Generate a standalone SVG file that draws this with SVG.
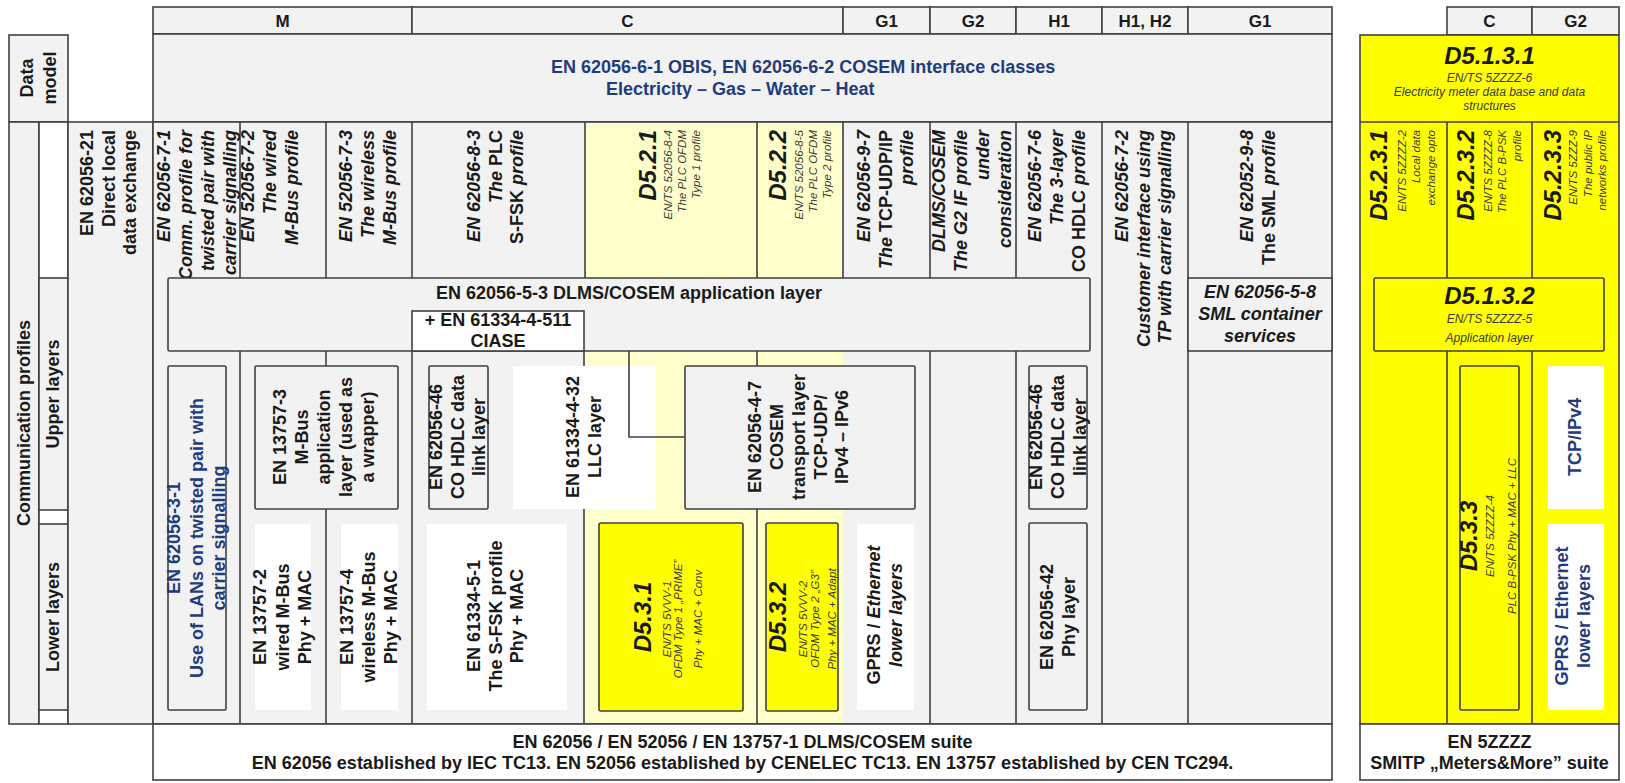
<svg xmlns="http://www.w3.org/2000/svg" width="1625" height="783" viewBox="0 0 1625 783">
  <style>
    text { font-family: "Liberation Sans", Arial, sans-serif; font-weight: bold; font-size: 18px; fill: #1a1a1a; }
    .i { font-style: italic; }
    .n { font-style: normal; }
    .blue { fill: #1f3c7f; }
    .big { font-size: 24px; font-style: italic; }
    .sm { font-size: 11.5px; font-weight: normal; font-style: italic; fill: #3a3a3a; }
    .sm12 { font-size: 12px; font-weight: normal; font-style: italic; fill: #3a3a3a; }
    .hd { font-size: 17px; }
    .ln { stroke: #404040; stroke-width: 1.6; fill: none; }
    .box { stroke: #404040; stroke-width: 1.6; }
    .g { fill: #f2f2f2; }
    .w { fill: #ffffff; }
    .ly { fill: #ffffcc; }
    .y { fill: #ffff00; }
  </style>

  <rect width="1625" height="783" fill="#ffffff"/>

  <!-- ===== Row labels on the left ===== -->
  <g id="label-data-model">
    <rect class="box g" x="9" y="35" width="59" height="87"/>
    <text transform="translate(33,78) rotate(-90)" text-anchor="middle"><tspan x="0" y="0">Data</tspan><tspan x="0" y="22.5">model</tspan></text>
  </g>
  <g id="label-communication-profiles">
    <rect class="box g" x="9" y="122" width="30" height="602"/>
    <text transform="translate(30,423) rotate(-90)" text-anchor="middle">Communication profiles</text>
  </g>
  <g id="label-layers">
    <rect class="box w" x="39" y="122" width="29" height="602"/>
    <rect class="box g" x="39" y="278" width="29" height="232"/>
    <rect class="box g" x="39" y="524" width="29" height="186"/>
    <text transform="translate(59,394) rotate(-90)" text-anchor="middle">Upper layers</text>
    <text transform="translate(58.5,617) rotate(-90)" text-anchor="middle">Lower layers</text>
  </g>
  <g id="col-direct-local">
    <rect class="box g" x="68" y="122" width="85" height="602"/>
    <text transform="translate(93,130) rotate(-90)" text-anchor="end"><tspan x="0" y="0">EN 62056-21</tspan><tspan x="0" y="21.5">Direct local</tspan><tspan x="0" y="43">data exchange</tspan></text>
  </g>

  <!-- ===== DLMS/COSEM frame ===== -->
  <g id="frame-dlms">
    <rect class="box g" x="153" y="7" width="259" height="27"/>
    <rect class="box g" x="412" y="7" width="431" height="27"/>
    <rect class="box g" x="843" y="7" width="87" height="27"/>
    <rect class="box g" x="930" y="7" width="86" height="27"/>
    <rect class="box g" x="1016" y="7" width="86" height="27"/>
    <rect class="box g" x="1102" y="7" width="86" height="27"/>
    <rect class="box g" x="1188" y="7" width="144" height="27"/>
    <g class="hd" text-anchor="middle">
      <text class="hd" x="282.5" y="27">M</text>
      <text class="hd" x="627.5" y="27">C</text>
      <text class="hd" x="886.5" y="27">G1</text>
      <text class="hd" x="973" y="27">G2</text>
      <text class="hd" x="1059" y="27">H1</text>
      <text class="hd" x="1145" y="27">H1, H2</text>
      <text class="hd" x="1260" y="27">G1</text>
    </g>
    <rect class="box g" x="153" y="34" width="1179" height="88"/>
    <rect class="box g" x="153" y="122" width="1179" height="602"/>
    <rect class="ly" x="585" y="123" width="258" height="600"/>
    <path class="ln" d="M240,122V278 M326,122V278 M412,122V278 M585,122V278 M757,122V278 M843,122V278 M930,122V278 M1016,122V278 M1102,122V724 M1188,122V724"/>
    <path class="ln" d="M240,351V724 M412,351V724 M584,351V724 M930,351V724 M1016,351V724 M326,509V724 M757,509V724"/>
  </g>

  <g id="data-model-cosem">
    <text class="blue" x="551" y="73">EN 62056-6-1 OBIS, EN 62056-6-2 COSEM interface classes</text>
    <text class="blue" x="606" y="95">Electricity – Gas – Water – Heat</text>
  </g>

  <!-- profile headings (upper row) -->
  <g id="profile-62056-7-1">
    <text class="i" transform="translate(170,130) rotate(-90)" text-anchor="end"><tspan x="0" y="0">EN 62056-7-1</tspan><tspan x="0" y="21.5">Comm. profile for</tspan><tspan x="0" y="43.5">twisted pair with</tspan><tspan x="0" y="66">carrier signalling</tspan></text>
  </g>
  <g id="profile-52056-7-2">
    <text class="i" transform="translate(254,130) rotate(-90)" text-anchor="end"><tspan x="0" y="0">EN 52056-7-2</tspan><tspan x="0" y="22">The wired</tspan><tspan x="0" y="44">M-Bus profile</tspan></text>
  </g>
  <g id="profile-52056-7-3">
    <text class="i" transform="translate(351.5,130) rotate(-90)" text-anchor="end"><tspan x="0" y="0">EN 52056-7-3</tspan><tspan x="0" y="22">The wireless</tspan><tspan x="0" y="44">M-Bus profile</tspan></text>
  </g>
  <g id="profile-62056-8-3">
    <text class="i" transform="translate(480,130) rotate(-90)" text-anchor="end"><tspan x="0" y="0">EN 62056-8-3</tspan><tspan x="0" y="21.5">The <tspan class="n">PLC</tspan></tspan><tspan x="0" y="43"><tspan class="n">S-FSK</tspan> profile</tspan></text>
  </g>
  <g id="profile-d5-2-1">
    <text class="big" transform="translate(656,130) rotate(-90)" text-anchor="end">D5.2.1</text>
    <text class="sm" transform="translate(672,130) rotate(-90)" text-anchor="end"><tspan x="0" y="0">EN/TS 52056-8-4</tspan><tspan x="0" y="14">The PLC OFDM</tspan><tspan x="0" y="28">Type 1 profile</tspan></text>
  </g>
  <g id="profile-d5-2-2">
    <text class="big" transform="translate(786,130) rotate(-90)" text-anchor="end">D5.2.2</text>
    <text class="sm" transform="translate(803,130) rotate(-90)" text-anchor="end"><tspan x="0" y="0">EN/TS 52056-8-5</tspan><tspan x="0" y="14">The PLC OFDM</tspan><tspan x="0" y="28">Type 2 profile</tspan></text>
  </g>
  <g id="profile-62056-9-7">
    <text class="i" transform="translate(870,130) rotate(-90)" text-anchor="end"><tspan x="0" y="0">EN 62056-9-7</tspan><tspan x="0" y="21.5">The <tspan class="n">TCP-UDP/IP</tspan></tspan><tspan x="0" y="43">profile</tspan></text>
  </g>
  <g id="profile-g2">
    <text class="i" transform="translate(945,130) rotate(-90)" text-anchor="end"><tspan x="0" y="0">DLMS/COSEM</tspan><tspan x="0" y="22">The G2 IF profile</tspan><tspan x="0" y="44">under</tspan><tspan x="0" y="66">consideration</tspan></text>
  </g>
  <g id="profile-62056-7-6">
    <text class="i" transform="translate(1041,130) rotate(-90)" text-anchor="end"><tspan x="0" y="0">EN 62056-7-6</tspan><tspan x="0" y="22">The 3-layer</tspan><tspan x="0" y="44"><tspan class="n">CO HDLC</tspan> profile</tspan></text>
  </g>
  <g id="profile-62056-7-2">
    <text class="i" transform="translate(1128,130) rotate(-90)" text-anchor="end"><tspan x="0" y="0">EN 62056-7-2</tspan><tspan x="0" y="21.5">Customer interface using</tspan><tspan x="0" y="43">TP with carrier signalling</tspan></text>
  </g>
  <g id="profile-62052-9-8">
    <text class="i" transform="translate(1253,130) rotate(-90)" text-anchor="end"><tspan x="0" y="0">EN 62052-9-8</tspan><tspan x="0" y="22"><tspan class="n">The SML</tspan> profile</tspan></text>
  </g>

  <!-- application layer boxes -->
  <g id="app-layer-dlms">
    <rect class="box g" x="168" y="278" width="922" height="73" rx="1.5"/>
    <text x="629" y="299" text-anchor="middle">EN 62056-5-3 DLMS/COSEM application layer</text>
  </g>
  <g id="ciase">
    <rect class="box w" x="412" y="311" width="172" height="40"/>
    <text x="498" y="326" text-anchor="middle">+ EN 61334-4-511</text>
    <text x="498" y="347" text-anchor="middle">CIASE</text>
  </g>
  <g id="sml-container">
    <rect class="box g" x="1188" y="278" width="144" height="73"/>
    <text class="i" x="1260" y="298" text-anchor="middle">EN 62056-5-8</text>
    <text class="i" x="1260" y="320" text-anchor="middle">SML container</text>
    <text class="i" x="1260" y="342" text-anchor="middle">services</text>
  </g>

  <!-- lower-layer boxes -->
  <g id="lan-62056-3-1">
    <rect class="box g" x="168" y="366" width="58" height="344" rx="1.5"/>
    <text class="blue" transform="translate(180,538) rotate(-90)" text-anchor="middle"><tspan x="0" y="0">EN 62056-3-1</tspan><tspan x="0" y="22.5">Use of LANs on twisted pair with</tspan><tspan x="0" y="45">carrier signalling</tspan></text>
  </g>
  <g id="mbus-app-13757-3">
    <rect class="box g" x="255" y="366" width="143" height="143" rx="1.5"/>
    <text transform="translate(286,437) rotate(-90)" text-anchor="middle"><tspan x="0" y="0">EN 13757-3</tspan><tspan x="0" y="22">M-Bus</tspan><tspan x="0" y="44">application</tspan><tspan x="0" y="66">layer (used as</tspan><tspan x="0" y="88">a wrapper)</tspan></text>
  </g>
  <g id="mbus-wired-13757-2">
    <rect class="w" x="255" y="524" width="56" height="186"/>
    <text transform="translate(266,617) rotate(-90)" text-anchor="middle"><tspan x="0" y="0">EN 13757-2</tspan><tspan x="0" y="22.5">wired M-Bus</tspan><tspan x="0" y="45">Phy + MAC</tspan></text>
  </g>
  <g id="mbus-wireless-13757-4">
    <rect class="w" x="341" y="524" width="57" height="186"/>
    <text transform="translate(353,617) rotate(-90)" text-anchor="middle"><tspan x="0" y="0">EN 13757-4</tspan><tspan x="0" y="22">wireless M-Bus</tspan><tspan x="0" y="44">Phy + MAC</tspan></text>
  </g>
  <g id="hdlc-62056-46-c">
    <rect class="box g" x="429" y="366" width="59" height="143" rx="1.5"/>
    <text transform="translate(442,437) rotate(-90)" text-anchor="middle"><tspan x="0" y="0">EN 62056-46</tspan><tspan x="0" y="21.5">CO HDLC data</tspan><tspan x="0" y="43">link layer</tspan></text>
  </g>
  <g id="llc-61334-4-32">
    <rect class="w" x="513" y="366" width="143" height="143"/>
    <text transform="translate(578.5,437) rotate(-90)" text-anchor="middle"><tspan x="0" y="0">EN 61334-4-32</tspan><tspan x="0" y="22">LLC layer</tspan></text>
  </g>
  <g id="transport-62056-4-7">
    <rect class="box g" x="685" y="366" width="230" height="143" rx="1.5"/>
    <text transform="translate(761,437) rotate(-90)" text-anchor="middle"><tspan x="0" y="0">EN 62056-4-7</tspan><tspan x="0" y="22">COSEM</tspan><tspan x="0" y="44">transport layer</tspan><tspan x="0" y="65.5">TCP-UDP/</tspan><tspan x="0" y="87">IPv4 – IPv6</tspan></text>
  </g>
  <g id="sfsk-61334-5-1">
    <rect class="w" x="427" y="524" width="140" height="186"/>
    <text transform="translate(480,616) rotate(-90)" text-anchor="middle"><tspan x="0" y="0">EN 61334-5-1</tspan><tspan x="0" y="21.5">The S-FSK profile</tspan><tspan x="0" y="43">Phy + MAC</tspan></text>
  </g>
  <g id="d5-3-1">
    <rect class="box y" x="599" y="523" width="144" height="188" rx="2"/>
    <text class="big" transform="translate(651,617) rotate(-90)" text-anchor="middle">D5.3.1</text>
    <text class="sm" transform="translate(670.5,619) rotate(-90)" text-anchor="middle"><tspan x="0" y="0">EN/TS 5VVV-1</tspan><tspan x="0" y="11.5">OFDM Type 1 „PRIME”</tspan><tspan x="0" y="31.5">Phy + MAC + Conv</tspan></text>
  </g>
  <g id="d5-3-2">
    <rect class="box y" x="766" y="523" width="72" height="188" rx="2"/>
    <text class="big" transform="translate(786,617) rotate(-90)" text-anchor="middle">D5.3.2</text>
    <text class="sm" transform="translate(806.5,619) rotate(-90)" text-anchor="middle"><tspan x="0" y="0">EN/TS 5VVV-2</tspan><tspan x="0" y="12">OFDM Type 2 „G3”</tspan><tspan x="0" y="29.5">Phy + MAC + Adapt</tspan></text>
  </g>
  <g id="gprs-ethernet-g1">
    <rect class="w" x="857" y="524" width="57" height="186"/>
    <text class="i" transform="translate(880,615) rotate(-90)" text-anchor="middle"><tspan x="0" y="0"><tspan class="n">GPRS / </tspan>Ethernet</tspan><tspan x="0" y="21.5">lower layers</tspan></text>
  </g>
  <g id="hdlc-62056-46-h1">
    <rect class="box g" x="1029" y="366" width="58" height="143" rx="1.5"/>
    <text transform="translate(1042,437) rotate(-90)" text-anchor="middle"><tspan x="0" y="0">EN 62056-46</tspan><tspan x="0" y="22">CO HDLC data</tspan><tspan x="0" y="44">link layer</tspan></text>
  </g>
  <g id="phy-62056-42">
    <rect class="box g" x="1029" y="523" width="58" height="187" rx="1.5"/>
    <text transform="translate(1053,617) rotate(-90)" text-anchor="middle"><tspan x="0" y="0">EN 62056-42</tspan><tspan x="0" y="22">Phy layer</tspan></text>
  </g>

  <g id="suite-dlms">
    <rect class="box w" x="153" y="724" width="1179" height="56"/>
    <text x="742.5" y="748" text-anchor="middle">EN 62056 / EN 52056 / EN 13757-1 DLMS/COSEM suite</text>
    <text x="742.5" y="769" text-anchor="middle">EN 62056 established by IEC TC13.  EN 52056 established by CENELEC TC13. EN 13757 established by CEN TC294.</text>
  </g>

  <!-- ===== SMITP "Meters&More" frame ===== -->
  <g id="frame-smitp">
    <rect class="box g" x="1447" y="7" width="85" height="28"/>
    <rect class="box g" x="1532" y="7" width="87" height="28"/>
    <text class="hd" x="1489.5" y="27" text-anchor="middle">C</text>
    <text class="hd" x="1575.5" y="27" text-anchor="middle">G2</text>
    <rect class="box y" x="1360" y="35" width="259" height="689"/>
    <path class="ln" d="M1360,122H1619 M1447,122V278 M1532,122V278 M1447,351V724 M1532,351V724"/>
  </g>
  <g id="d5-1-3-1">
    <text class="big" x="1489.5" y="64" text-anchor="middle">D5.1.3.1</text>
    <text class="sm12" x="1489.5" y="82" text-anchor="middle">EN/TS 5ZZZZ-6</text>
    <text class="sm12" x="1489.5" y="96" text-anchor="middle">Electricity meter data base and data</text>
    <text class="sm12" x="1489.5" y="110" text-anchor="middle">structures</text>
  </g>
  <g id="d5-2-3-1">
    <text class="big" transform="translate(1387,130) rotate(-90)" text-anchor="end">D5.2.3.1</text>
    <text class="sm" transform="translate(1405.5,130) rotate(-90)" text-anchor="end"><tspan x="0" y="0">EN/TS 5ZZZZ-2</tspan><tspan x="0" y="14.5">Local data</tspan><tspan x="0" y="29">exchange opto</tspan></text>
  </g>
  <g id="d5-2-3-2">
    <text class="big" transform="translate(1474,130) rotate(-90)" text-anchor="end">D5.2.3.2</text>
    <text class="sm" transform="translate(1491.5,130) rotate(-90)" text-anchor="end"><tspan x="0" y="0">EN/TS 5ZZZZ-8</tspan><tspan x="0" y="14.5">The PLC B-PSK</tspan><tspan x="0" y="29">profile</tspan></text>
  </g>
  <g id="d5-2-3-3">
    <text class="big" transform="translate(1561,130) rotate(-90)" text-anchor="end">D5.2.3.3</text>
    <text class="sm" transform="translate(1577,130) rotate(-90)" text-anchor="end"><tspan x="0" y="0">EN/TS 5ZZZ-9</tspan><tspan x="0" y="14.5">The public IP</tspan><tspan x="0" y="29">networks profile</tspan></text>
  </g>
  <g id="d5-1-3-2">
    <rect class="box y" x="1374" y="278" width="230" height="73" rx="1.5"/>
    <text class="big" x="1489.5" y="304" text-anchor="middle">D5.1.3.2</text>
    <text class="sm12" x="1489.5" y="323" text-anchor="middle">EN/TS 5ZZZZ-5</text>
    <text class="sm12" x="1489.5" y="342" text-anchor="middle">Application layer</text>
  </g>
  <g id="d5-3-3">
    <rect class="box y" x="1460" y="366" width="59" height="344" rx="1.5"/>
    <text class="big" transform="translate(1477,536) rotate(-90)" text-anchor="middle">D5.3.3</text>
    <text class="sm" transform="translate(1493.5,536) rotate(-90)" text-anchor="middle"><tspan x="0" y="0">EN/TS 5ZZZZ-4</tspan><tspan x="0" y="22">PLC B-PSK Phy + MAC + LLC</tspan></text>
  </g>
  <g id="tcp-ipv4">
    <rect class="w" x="1548" y="366" width="56" height="143"/>
    <text class="blue" transform="translate(1581,437) rotate(-90)" text-anchor="middle">TCP/IPv4</text>
  </g>
  <g id="gprs-ethernet-smitp">
    <rect class="w" x="1548" y="524" width="56" height="186"/>
    <text class="blue" transform="translate(1568,616) rotate(-90)" text-anchor="middle"><tspan x="0" y="0">GPRS / Ethernet</tspan><tspan x="0" y="22">lower layers</tspan></text>
  </g>
  <g id="suite-smitp">
    <rect class="box w" x="1360" y="724" width="259" height="56"/>
    <text x="1489.5" y="748" text-anchor="middle">EN 5ZZZZ</text>
    <text x="1489.5" y="769" text-anchor="middle">SMITP „Meters&amp;More” suite</text>
  </g>

  <!-- ===== Connectors between layers ===== -->
  <g id="connectors">
    <path class="ln" d="M326,351V366"/>
    <path class="ln" d="M757,351V366"/>
    <path class="ln" d="M629,351V437H685"/>
  </g>
</svg>
